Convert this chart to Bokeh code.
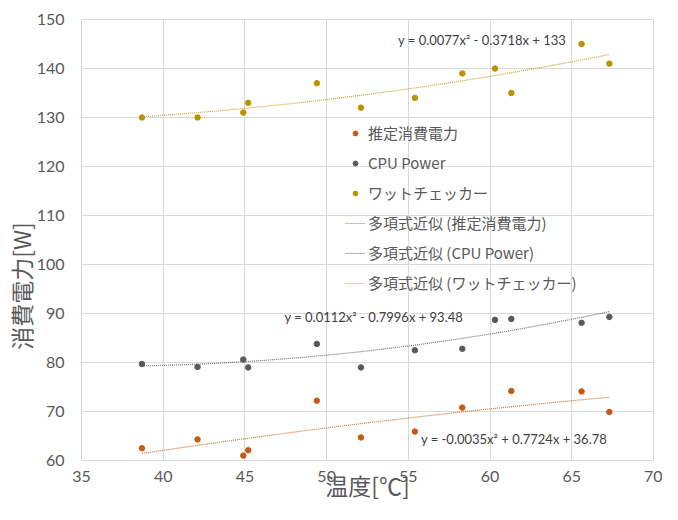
import numpy as np
from bokeh.plotting import figure
from bokeh.models import Legend, LegendItem, FixedTicker
from bokeh.core.properties import value
from bokeh.embed import file_html
from bokeh.resources import INLINE

# ---- data ----
temps = [38.7, 42.1, 44.9, 45.2, 49.4, 52.1, 55.4, 58.3, 60.3, 61.3, 65.6, 67.3]
estimated = [62.5, 64.3, 61.0, 62.1, 72.2, 64.7, 65.9, 70.8, float("nan"), 74.2, 74.1, 69.9]
cpu_power = [79.7, 79.1, 80.6, 79.0, 83.8, 79.0, 82.5, 82.8, 88.7, 88.9, 88.1, 89.3]
watt_checker = [130, 130, 131, 133, 137, 132, 134, 139, 140, 135, 145, 141]

# trendline coefficients shown on the chart (x^2, x, const)
coef_est = [-0.0035, 0.7724, 36.78]
coef_cpu = [0.0112, -0.7996, 93.48]
coef_watt = [0.0077, -0.3718, 133]

eq_est = "y = -0.0035x² + 0.7724x + 36.78"
eq_cpu = "y = 0.0112x² - 0.7996x + 93.48"
eq_watt = "y = 0.0077x² - 0.3718x + 133"

names = ["推定消費電力", "CPU Power", "ワットチェッカー"]
x_ticks = [35, 40, 45, 50, 55, 60, 65, 70]
y_ticks = [60, 70, 80, 90, 100, 110, 120, 130, 140, 150]
x_title = "温度[℃]"
y_title = "消費電力[W]"

# ---- styling ----
C_EST = "#C55A11"
C_CPU = "#595959"
C_WATT = "#BF9000"
TXT = "#595959"
LATIN = "Lato"
CJK = "Noto Sans CJK JP"

p = figure(width=662, height=504, output_backend="svg", toolbar_location=None,
           x_range=(35, 70), y_range=(60, 150),
           min_border_left=79, min_border_right=9, min_border_top=19, min_border_bottom=44)
p.background_fill_color = "white"
p.border_fill_color = "white"
p.outline_line_color = "#d9d9d9"
p.outline_line_width = 1

for ax in (p.xaxis[0], p.yaxis[0]):
    ax.axis_line_color = None
    ax.major_tick_line_color = None
    ax.minor_tick_line_color = None
    ax.major_tick_out = 0
    ax.major_tick_in = 0
    ax.major_label_text_font = LATIN
    ax.major_label_text_font_size = "16px"
    ax.major_label_text_color = TXT
    ax.axis_label_text_font = CJK
    ax.axis_label_text_font_size = "23px"
    ax.axis_label_text_font_style = "normal"
    ax.axis_label_text_color = TXT
p.xaxis.ticker = FixedTicker(ticks=x_ticks)
p.yaxis.ticker = FixedTicker(ticks=y_ticks)
p.xaxis.major_label_standoff = 10
p.yaxis.major_label_standoff = 17
p.xaxis.axis_label = x_title
p.xaxis.axis_label_standoff = -17
# ideographic spaces shift the rotated title downward, as in the reference
p.yaxis.axis_label = y_title + "\u3000\u3000\u3000\u3000"
p.yaxis.axis_label_standoff = -4

p.xgrid.grid_line_color = "#d9d9d9"
p.ygrid.grid_line_color = "#d9d9d9"
p.xgrid.ticker = FixedTicker(ticks=x_ticks)
p.ygrid.ticker = FixedTicker(ticks=y_ticks)

# trendlines
xs = np.linspace(min(temps), max(temps), 60)
lines = []
for coef, col in ((coef_est, C_EST), (coef_cpu, C_CPU), (coef_watt, C_WATT)):
    lines.append(p.line(xs, np.polyval(coef, xs), line_color=col, line_width=1.2,
                        line_dash="1 1", line_alpha=0.85))

# scatter points
dots = []
for ys, col in ((estimated, C_EST), (cpu_power, C_CPU), (watt_checker, C_WATT)):
    dots.append(p.scatter(temps, ys, size=5.5, fill_color=col, line_color=col))

# equations
for x0, y0, txt in ((54.37, 145.8, eq_watt), (47.42, 89.3, eq_cpu), (55.77, 64.4, eq_est)):
    p.text(x=[x0], y=[y0], text=[txt], text_font=value(LATIN), text_font_size="13px",
           text_color="#404040", text_align="left", text_baseline="middle")

items = [LegendItem(label=n, renderers=[r]) for n, r in zip(names, dots)]
items += [LegendItem(label="多項式近似 (%s)" % n, renderers=[r]) for n, r in zip(names, lines)]
legend = Legend(items=items, location=(264, 167), orientation="vertical",
                background_fill_alpha=0, border_line_color=None,
                label_text_font=CJK, label_text_font_size="15px", label_text_color=TXT,
                glyph_width=20, glyph_height=12, label_height=20, label_standoff=3,
                spacing=9, padding=0, margin=0)
p.add_layout(legend, "center")

open("out.html", "w").write(file_html(p, INLINE))
